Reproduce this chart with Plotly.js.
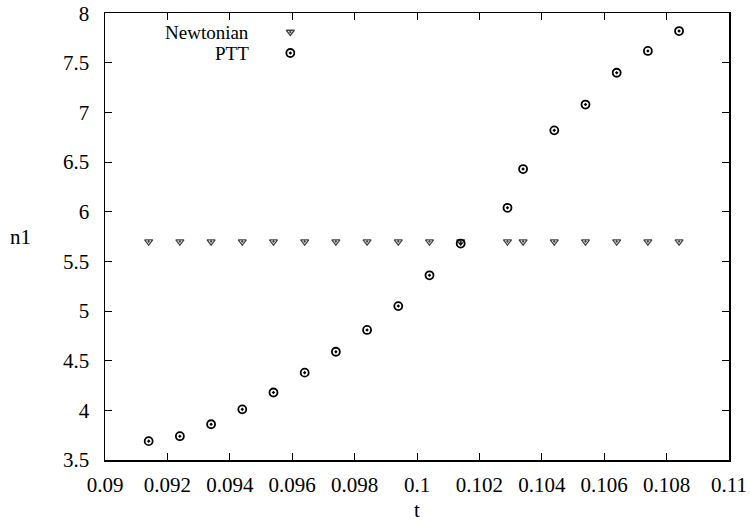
<!DOCTYPE html>
<html>
<head>
<meta charset="utf-8">
<script src="https://cdn.plot.ly/plotly-3.0.1.min.js"></script>
<style>html,body{margin:0;padding:0;background:#fff}#chart{width:750px;height:523px}</style>
</head>
<body>
<div id="chart"></div>
<script>
const t = [0.0914, 0.0924, 0.0934, 0.0944, 0.0954, 0.0964, 0.0974, 0.0984, 0.0994, 0.1004, 0.1014, 0.1029, 0.1034, 0.1044, 0.1054, 0.1064, 0.1074, 0.1084];
const newtonian = [5.7, 5.7, 5.7, 5.7, 5.7, 5.7, 5.7, 5.7, 5.7, 5.7, 5.7, 5.7, 5.7, 5.7, 5.7, 5.7, 5.7, 5.7];
const ptt = [3.69, 3.74, 3.86, 4.01, 4.18, 4.38, 4.59, 4.81, 5.05, 5.36, 5.68, 6.04, 6.43, 6.82, 7.08, 7.40, 7.62, 7.82];
const xTicks = [0.09, 0.092, 0.094, 0.096, 0.098, 0.1, 0.102, 0.104, 0.106, 0.108, 0.11];
const xTickLabels = ['0.09', '0.092', '0.094', '0.096', '0.098', '0.1', '0.102', '0.104', '0.106', '0.108', '0.11'];
const yTicks = [3.5, 4, 4.5, 5, 5.5, 6, 6.5, 7, 7.5, 8];
const yTickLabels = ['3.5', '4', '4.5', '5', '5.5', '6', '6.5', '7', '7.5', '8'];
const seriesNames = ['Newtonian', 'PTT'];

const font = {family: '"Liberation Serif", "Times New Roman", Times, serif', size: 21, color: '#000'};
const legendFont = {family: font.family, size: 19, color: '#000'};
const triMarker = {symbol: 'triangle-down-open-dot', size: 7, color: '#444', line: {width: 1.3, color: '#444'}};
const circMarker = {symbol: 'circle-open-dot', size: 8, color: '#000', line: {width: 1.8, color: '#000'}};

const data = [
  {x: t, y: newtonian, mode: 'markers', type: 'scatter', name: seriesNames[0], marker: triMarker, showlegend: false},
  {x: t, y: ptt, mode: 'markers', type: 'scatter', name: seriesNames[1], marker: circMarker, showlegend: false},
  // legend key symbols on an overlay paper-like axis
  {x: [0.297], y: [0.9575], xaxis: 'x2', yaxis: 'y2', mode: 'markers', marker: triMarker, showlegend: false, hoverinfo: 'skip'},
  {x: [0.297], y: [0.9105], xaxis: 'x2', yaxis: 'y2', mode: 'markers', marker: circMarker, showlegend: false, hoverinfo: 'skip'}
];

const axisCommon = {
  showgrid: false, zeroline: false, showline: true, linecolor: '#000', linewidth: 1.5,
  mirror: 'allticks', ticks: 'inside', ticklen: 7, tickwidth: 1, tickcolor: '#000',
  tickfont: font
};

const layout = {
  width: 750, height: 523,
  margin: {l: 105, r: 21, t: 13, b: 63},
  paper_bgcolor: '#fff', plot_bgcolor: '#fff',
  font: font,
  showlegend: false,
  xaxis: Object.assign({}, axisCommon, {
    range: [0.09, 0.11], tickvals: xTicks, ticktext: xTickLabels, ticklabelstandoff: 5,
    title: {text: 't', font: font, standoff: 6}
  }),
  yaxis: Object.assign({}, axisCommon, {
    range: [3.5, 8.002], tickvals: yTicks, ticktext: yTickLabels, ticklabelstandoff: 10
  }),
  xaxis2: {overlaying: 'x', range: [0, 1], visible: false, fixedrange: true},
  yaxis2: {overlaying: 'y', range: [0, 1], visible: false, fixedrange: true},
  annotations: [
    {text: 'n1', xref: 'paper', yref: 'paper', x: -0.135, y: 0.5, xanchor: 'center', yanchor: 'middle', showarrow: false, font: font},
    {text: seriesNames[0], xref: 'x2', yref: 'y2', x: 0.232, y: 0.9575, xanchor: 'right', yanchor: 'middle', showarrow: false, font: legendFont, borderpad: 0},
    {text: seriesNames[1], xref: 'x2', yref: 'y2', x: 0.232, y: 0.9105, xanchor: 'right', yanchor: 'middle', showarrow: false, font: legendFont, borderpad: 0}
  ]
};

Plotly.newPlot('chart', data, layout, {displayModeBar: false, staticPlot: true});
</script>
</body>
</html>
